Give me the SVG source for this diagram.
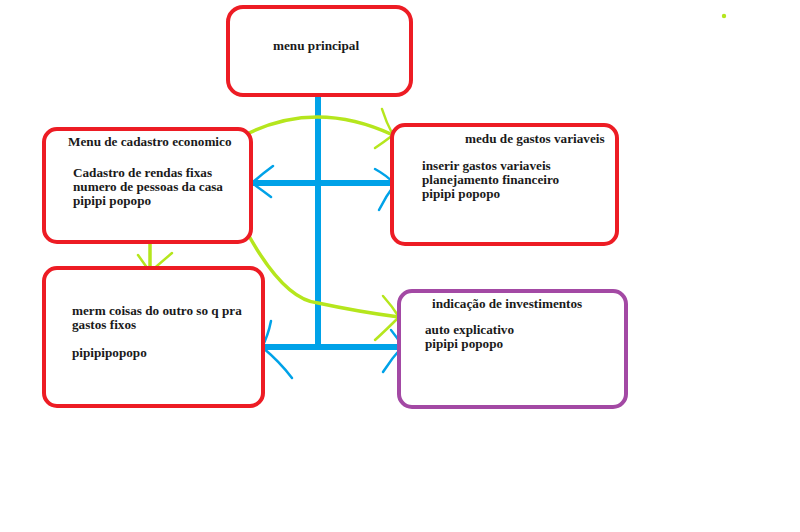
<svg xmlns="http://www.w3.org/2000/svg" width="800" height="532" viewBox="0 0 800 532">
<style>
.box{fill:#fff;stroke:#ed1c24;stroke-width:4}
.pbox{fill:#fff;stroke:#a349a4;stroke-width:4}
.t{font-family:"Liberation Serif",serif;font-weight:bold;font-size:13.2px;fill:#1a1a1a}
.blue{fill:none;stroke:#00a2e8;stroke-width:6;stroke-linecap:butt}
.bb{fill:none;stroke:#00a2e8;stroke-width:2.5;stroke-linecap:round}
.g{fill:none;stroke:#b5e61d;stroke-width:3.5;stroke-linecap:round}
.gb{fill:none;stroke:#b5e61d;stroke-width:2.5;stroke-linecap:round}
</style>
<rect width="800" height="532" fill="#fff"/>
<g id="connectors">
<line class="blue" x1="318" y1="95" x2="318" y2="350"/>
<line class="blue" x1="250" y1="183" x2="398" y2="183"/>
<line class="blue" x1="261" y1="347" x2="404" y2="347"/>
<path class="bb" d="M273,166 Q262,174 252,183 Q262,190 271,197"/>
<path class="bb" d="M375,169 Q386,175 395,184 Q386,196 379,210"/>
<path class="bb" d="M271,321 Q268,336 262,347 Q280,362 292,378"/>
<path class="bb" d="M391,330 Q398,338 402,347 Q392,358 383,372"/>
<path class="g" d="M249,133 Q318,100 393,135"/>
<path class="gb" d="M382,109 Q386,122 393,135 Q384,142 375,148"/>
<path class="g" d="M249,236 Q285,300 318,303 Q360,312 399,317"/>
<path class="gb" d="M383,296 Q392,306 399,317 Q386,330 375,340"/>
<path class="g" d="M150,240 L150,272"/>
<path class="gb" d="M138,255 L150,272 L172,253"/>
</g>
<g id="menu-principal">
<rect class="box" x="228" y="7" width="183" height="88" rx="15"/>
<text class="t" x="273" y="50">menu principal</text>
</g>
<g id="menu-cadastro">
<rect class="box" x="44" y="129" width="207" height="113" rx="13"/>
<text class="t" x="68" y="146">Menu de cadastro economico</text>
<text class="t" x="73" y="177">Cadastro de rendas fixas</text>
<text class="t" x="73" y="191">numero de pessoas da casa</text>
<text class="t" x="73" y="205">pipipi popopo</text>
</g>
<g id="gastos-variaveis">
<rect class="box" x="392" y="125" width="225" height="119" rx="13"/>
<text class="t" x="465" y="143">medu de gastos variaveis</text>
<text class="t" x="422" y="170">inserir gastos variaveis</text>
<text class="t" x="422" y="184">planejamento financeiro</text>
<text class="t" x="422" y="198">pipipi popopo</text>
</g>
<g id="gastos-fixos">
<rect class="box" x="44" y="268" width="219" height="138" rx="13"/>
<text class="t" x="72" y="315">merm coisas do outro so q pra</text>
<text class="t" x="72" y="329">gastos fixos</text>
<text class="t" x="72" y="357">pipipipopopo</text>
</g>
<g id="investimentos">
<rect class="pbox" x="399" y="291" width="227" height="116" rx="13"/>
<text class="t" x="432" y="308">indicação de investimentos</text>
<text class="t" x="425" y="334">auto explicativo</text>
<text class="t" x="425" y="348">pipipi popopo</text>
</g>
<circle cx="724" cy="16" r="2.2" fill="#b5e61d"/>
</svg>
